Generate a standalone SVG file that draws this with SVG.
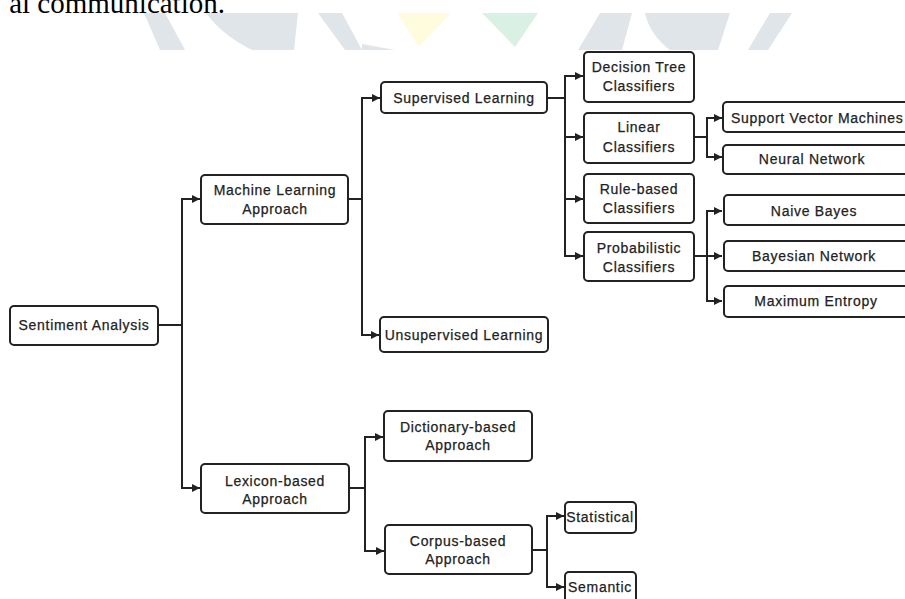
<svg xmlns="http://www.w3.org/2000/svg" width="905" height="599" viewBox="0 0 905 599">
<style>
.box{fill:#fff;stroke:#222;stroke-width:2}
.t{font-family:"Liberation Sans",Arial,sans-serif;font-size:14px;fill:#222;stroke:#222;stroke-width:0.25px;letter-spacing:0.7px;text-anchor:middle}
.c{fill:none;stroke:#222;stroke-width:2}
.wm{fill:#dfe5e8}
</style>
<defs>
<marker id="ah" markerUnits="userSpaceOnUse" markerWidth="9" markerHeight="9" refX="8" refY="4.5" orient="auto">
<path d="M0,0.5 L8,4.5 L0,8.5 z" fill="#222"/>
</marker>
</defs>
<rect width="905" height="599" fill="#fff"/>
<g id="watermark">
<polygon class="wm" points="144,13 165,13 185,50 160,50"/>
<path class="wm" d="M206,13 L298,13 L294,50 L252,50 Q222,35 206,13 z"/>
<polygon class="wm" points="318,13 342,13 362,50 345,50"/>
<polygon class="wm" points="362,44 395,50 362,50"/>
<polygon fill="#fefcdc" points="397,13 451,13 419,47"/>
<polygon fill="#d9f0e4" points="482,13 538,13 515,47"/>
<path class="wm" d="M600,13 H632 L622,50 H578 Q590,30 600,13 z"/>
<path class="wm" d="M645,13 H730 L718,50 H670 Q650,35 645,13 z"/>
<polygon class="wm" points="770,13 792,13 768,50 748,50"/>
</g>
<text x="225" y="13" style="font-family:'Liberation Serif','Times New Roman',serif;font-size:29px;fill:#000;text-anchor:end">al communication.</text>
<g id="connectors">
<path class="c" d="M158,325 H182"/>
<path class="c" d="M182,325 V199 H200" marker-end="url(#ah)"/>
<path class="c" d="M182,325 V488 H200" marker-end="url(#ah)"/>
<path class="c" d="M348,199 H362"/>
<path class="c" d="M362,199 V98 H380" marker-end="url(#ah)"/>
<path class="c" d="M362,199 V335 H379" marker-end="url(#ah)"/>
<path class="c" d="M547,98 H565"/>
<path class="c" d="M565,98 V76 H583" marker-end="url(#ah)"/>
<path class="c" d="M565,98 V137 H583" marker-end="url(#ah)"/>
<path class="c" d="M565,98 V199 H583" marker-end="url(#ah)"/>
<path class="c" d="M565,98 V256 H583" marker-end="url(#ah)"/>
<path class="c" d="M694,137 H707"/>
<path class="c" d="M707,137 V118 H722" marker-end="url(#ah)"/>
<path class="c" d="M707,137 V157 H722" marker-end="url(#ah)"/>
<path class="c" d="M694,256 H722" marker-end="url(#ah)"/>
<path class="c" d="M707,256 V211 H722" marker-end="url(#ah)"/>
<path class="c" d="M707,256 V301 H722" marker-end="url(#ah)"/>
<path class="c" d="M349,488 H365"/>
<path class="c" d="M365,488 V437 H383" marker-end="url(#ah)"/>
<path class="c" d="M365,488 V551 H384" marker-end="url(#ah)"/>
<path class="c" d="M532,550 H547"/>
<path class="c" d="M547,550 V516 H564" marker-end="url(#ah)"/>
<path class="c" d="M547,550 V587 H564" marker-end="url(#ah)"/>
</g>
<g id="sentiment"><rect class="box" x="10" y="306" width="148" height="39" rx="4"/><text class="t" x="84" y="330">Sentiment Analysis</text></g>
<g id="ml"><rect class="box" x="201" y="175" width="147" height="49" rx="4"/><text class="t" x="275" y="195">Machine Learning</text><text class="t" x="275" y="214">Approach</text></g>
<g id="supervised"><rect class="box" x="381" y="82" width="166" height="31" rx="4"/><text class="t" x="464" y="103">Supervised Learning</text></g>
<g id="unsupervised"><rect class="box" x="380" y="317" width="168" height="35" rx="4"/><text class="t" x="464" y="340">Unsupervised Learning</text></g>
<g id="decision"><rect class="box" x="584" y="52" width="110" height="50" rx="4"/><text class="t" x="639" y="72">Decision Tree</text><text class="t" x="639" y="91">Classifiers</text></g>
<g id="linear"><rect class="box" x="584" y="113" width="110" height="50" rx="4"/><text class="t" x="639" y="132">Linear</text><text class="t" x="639" y="152">Classifiers</text></g>
<g id="rule"><rect class="box" x="584" y="174" width="110" height="49" rx="4"/><text class="t" x="639" y="194">Rule-based</text><text class="t" x="639" y="213">Classifiers</text></g>
<g id="probabilistic"><rect class="box" x="584" y="232" width="110" height="49" rx="4"/><text class="t" x="639" y="253">Probabilistic</text><text class="t" x="639" y="272">Classifiers</text></g>
<g id="svm"><rect class="box" x="723" y="102" width="186" height="30" rx="4"/><text class="t" x="731" y="123" style="text-anchor:start">Support Vector Machines</text></g>
<g id="neural"><rect class="box" x="723" y="145" width="186" height="29" rx="4"/><text class="t" x="812" y="164">Neural Network</text></g>
<g id="naive"><rect class="box" x="724" y="195" width="186" height="30" rx="4"/><text class="t" x="814" y="216">Naive Bayes</text></g>
<g id="bayesian"><rect class="box" x="724" y="241" width="186" height="30" rx="4"/><text class="t" x="814" y="261">Bayesian Network</text></g>
<g id="maxent"><rect class="box" x="724" y="286" width="186" height="31" rx="4"/><text class="t" x="816" y="306">Maximum Entropy</text></g>
<g id="dictionary"><rect class="box" x="384" y="411" width="148" height="50" rx="4"/><text class="t" x="458" y="432">Dictionary-based</text><text class="t" x="458" y="450">Approach</text></g>
<g id="lexicon"><rect class="box" x="201" y="464" width="148" height="49" rx="4"/><text class="t" x="275" y="486">Lexicon-based</text><text class="t" x="275" y="504">Approach</text></g>
<g id="corpus"><rect class="box" x="385" y="525" width="147" height="49" rx="4"/><text class="t" x="458" y="546">Corpus-based</text><text class="t" x="458" y="564">Approach</text></g>
<g id="statistical"><rect class="box" x="565" y="502" width="71" height="31" rx="4"/><text class="t" x="600" y="522">Statistical</text></g>
<g id="semantic"><rect class="box" x="565" y="572" width="71" height="32" rx="4"/><text class="t" x="600" y="592">Semantic</text></g>
</svg>
